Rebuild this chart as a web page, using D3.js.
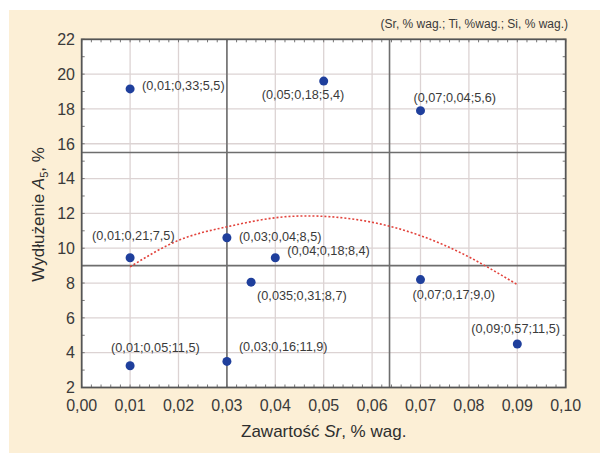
<!DOCTYPE html>
<html>
<head>
<meta charset="utf-8">
<script src="https://cdn.jsdelivr.net/npm/d3@7"></script>
<style>
  body { margin: 0; background: #fff; }
  svg { display: block; font-family: "Liberation Sans", Arial, sans-serif; }
</style>
</head>
<body>
<svg id="chart" width="600" height="453"></svg>
<script>
// dane z wykresu
const srValues = [0.01, 0.05, 0.07, 0.01, 0.03, 0.04, 0.035, 0.07, 0.01, 0.03, 0.09];
const elongation = [19.15, 19.6, 17.9, 9.45, 10.6, 9.45, 8.05, 8.2, 3.25, 3.5, 4.5];
const pointLabels = ['(0,01;0,33;5,5)', '(0,05;0,18;5,4)', '(0,07;0,04;5,6)', '(0,01;0,21;7,5)',
  '(0,03;0,04;8,5)', '(0,04;0,18;8,4)', '(0,035;0,31;8,7)', '(0,07;0,17;9,0)',
  '(0,01;0,05;11,5)', '(0,03;0,16;11,9)', '(0,09;0,57;11,5)'];

// krzywa trendu
const fitX = [0.01, 0.02, 0.03, 0.04, 0.05, 0.06, 0.07, 0.08, 0.09];
const fitY = [8.93, 10.45, 11.23, 11.75, 11.83, 11.49, 10.72, 9.5, 7.91];

// linie podziału
const refX = [0.03, 0.0636];
const refY = [15.5, 9.0];

const xTicks = [0, 0.01, 0.02, 0.03, 0.04, 0.05, 0.06, 0.07, 0.08, 0.09, 0.10];
const yTicks = [2, 4, 6, 8, 10, 12, 14, 16, 18, 20, 22];

// przesunięcia etykiet punktów w px (lewy brzeg tekstu, środek wysokości)
const labelOffset = [[12, -2], [-62, 15], [-7, -12], [-38, -21], [12, 0], [12, -6.5],
  [6, 14], [-8, 16], [-19, -17.5], [12, -14], [-46, -14]];

const svg = d3.select('#chart');
const pLeft = 81.7, pRight = 565.7, pTop = 39.3, pBottom = 387.5;

svg.append('rect').attr('x', 9).attr('y', 10).attr('width', 591).attr('height', 443).attr('fill', '#fcefd6');
svg.append('rect').attr('x', pLeft).attr('y', pTop).attr('width', pRight - pLeft).attr('height', pBottom - pTop).attr('fill', '#fff');

const x = d3.scaleLinear().domain([0, 0.10]).range([pLeft, pRight]);
const y = d3.scaleLinear().domain([2, 22]).range([pBottom, pTop]);

const grid = svg.append('g');
grid.selectAll('.vg').data(xTicks.slice(1, -1)).join('line')
  .attr('x1', d => x(d)).attr('x2', d => x(d)).attr('y1', pTop).attr('y2', pBottom)
  .attr('stroke', '#dcd3d3').attr('stroke-width', 1.3);
grid.selectAll('.hg').data(yTicks.slice(1, -1)).join('line')
  .attr('x1', pLeft).attr('x2', pRight).attr('y1', d => y(d)).attr('y2', d => y(d))
  .attr('stroke', '#dcd3d3').attr('stroke-width', 1.3);

// drobne kreski wewnątrz ramki
const minorX = d3.range(0, 51).map(i => i * 0.002);
const minorY = d3.range(2, 23);
const mt = svg.append('g').attr('stroke', '#777').attr('stroke-width', 1);
mt.selectAll('.mtop').data(minorX).join('line')
  .attr('x1', d => x(d)).attr('x2', d => x(d)).attr('y1', pTop).attr('y2', pTop + 3);
mt.selectAll('.mbot').data(minorX).join('line')
  .attr('x1', d => x(d)).attr('x2', d => x(d)).attr('y1', pBottom).attr('y2', pBottom - 3);
mt.selectAll('.mleft').data(minorY).join('line')
  .attr('x1', pLeft).attr('x2', pLeft + 3).attr('y1', d => y(d)).attr('y2', d => y(d));
mt.selectAll('.mright').data(minorY).join('line')
  .attr('x1', pRight).attr('x2', pRight - 3).attr('y1', d => y(d)).attr('y2', d => y(d));

// linie podziału
svg.selectAll('.rx').data(refX).join('line')
  .attr('x1', d => x(d)).attr('x2', d => x(d)).attr('y1', pTop).attr('y2', pBottom)
  .attr('stroke', '#6e6e6e').attr('stroke-width', 1.6);
svg.selectAll('.ry').data(refY).join('line')
  .attr('x1', pLeft).attr('x2', pRight).attr('y1', d => y(d)).attr('y2', d => y(d))
  .attr('stroke', '#6e6e6e').attr('stroke-width', 1.6);

svg.append('rect').attr('x', pLeft).attr('y', pTop).attr('width', pRight - pLeft).attr('height', pBottom - pTop)
  .attr('fill', 'none').attr('stroke', '#555').attr('stroke-width', 1.8);

// krzywa
const line = d3.line().x(d => x(d[0])).y(d => y(d[1])).curve(d3.curveNatural);
svg.append('path').datum(fitX.map((v, i) => [v, fitY[i]]))
  .attr('d', line).attr('fill', 'none').attr('stroke', '#e2433c')
  .attr('stroke-width', 1.6).attr('stroke-dasharray', '2,2');

// punkty
const pts = srValues.map((v, i) => ({ x: v, y: elongation[i], label: pointLabels[i], off: labelOffset[i] }));
svg.selectAll('.pt').data(pts).join('circle')
  .attr('cx', d => x(d.x)).attr('cy', d => y(d.y)).attr('r', 4.5).attr('fill', '#1f3f9c');

svg.selectAll('.pl').data(pts).join('text')
  .attr('x', d => x(d.x) + d.off[0])
  .attr('y', d => y(d.y) + d.off[1])
  .attr('dominant-baseline', 'middle')
  .attr('font-size', 12.7).attr('fill', '#3a3a3a')
  .text(d => d.label);

// etykiety osi
const fmt = d => d3.format('.2f')(d).replace('.', ',');
svg.selectAll('.xt').data(xTicks).join('text')
  .attr('x', d => x(d)).attr('y', 411).attr('text-anchor', 'middle')
  .attr('font-size', 16).attr('fill', '#3a3a3a').text(fmt);
svg.selectAll('.yt').data(yTicks).join('text')
  .attr('x', 75).attr('y', d => y(d)).attr('dy', '0.36em').attr('text-anchor', 'end')
  .attr('font-size', 16).attr('fill', '#3a3a3a').text(d => d);

const xl = svg.append('text').attr('x', (pLeft + pRight) / 2).attr('y', 437).attr('text-anchor', 'middle')
  .attr('font-size', 17).attr('fill', '#2e2e2e');
xl.append('tspan').text('Zawartość ');
xl.append('tspan').attr('font-style', 'italic').text('Sr');
xl.append('tspan').text(', % wag.');

const yl = svg.append('text').attr('transform', `translate(44,${(pTop + pBottom) / 2 + 1}) rotate(-90)`)
  .attr('text-anchor', 'middle').attr('font-size', 17).attr('fill', '#2e2e2e');
yl.append('tspan').text('Wydłużenie ');
yl.append('tspan').attr('font-style', 'italic').text('A');
yl.append('tspan').attr('font-size', 11).attr('dy', 4).text('5');
yl.append('tspan').attr('dy', -4).text(', %');

svg.append('text').attr('x', 568).attr('y', 28).attr('text-anchor', 'end')
  .attr('font-size', 12).attr('fill', '#3a3a3a')
  .text('(Sr, % wag.; Ti, %wag.; Si, % wag.)');
</script>
</body>
</html>
